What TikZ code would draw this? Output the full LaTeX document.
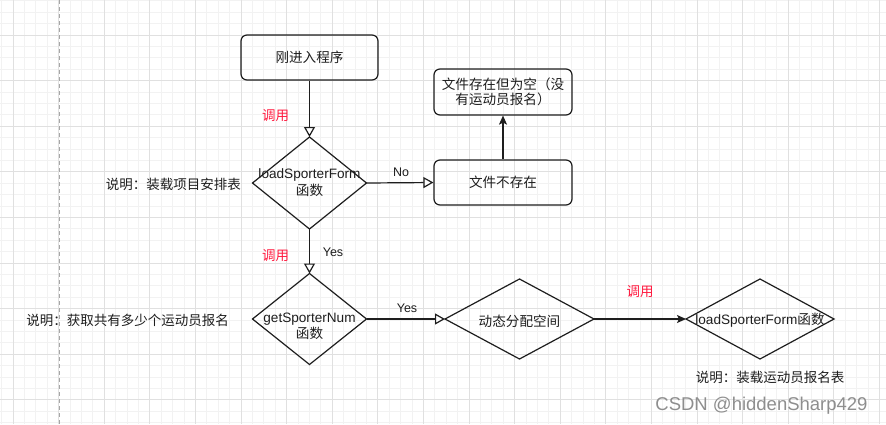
\documentclass[tikz,border=0pt]{standalone}
\usepackage{fontspec}
\setmainfont{Liberation Sans}
\newfontfamily\cjk{Noto Sans CJK SC}
\usetikzlibrary{shapes.geometric,arrows.meta}
\definecolor{gridminor}{HTML}{F2F2F2}
\definecolor{gridmajor}{HTML}{E0E0E0}
\definecolor{callred}{HTML}{FF1A40}
\definecolor{ink}{HTML}{1E1E1E}
\definecolor{wm}{HTML}{8E8E8E}
\begin{document}
\begin{tikzpicture}[x=1pt,y=-1pt,
  font=\fontsize{13.6}{15.5}\selectfont,
  box/.style={draw=ink, line width=1.2pt, rounded corners=6pt, minimum width=137pt,
    minimum height=45pt, inner sep=0pt, align=center, text=ink},
  dia/.style={draw=ink, line width=1.2pt, diamond, inner sep=0pt, outer sep=0pt},
  txt/.style={text=ink, inner sep=0pt, align=center},
  note/.style={text=ink, inner sep=0pt, font=\cjk\fontsize{13.5}{15.5}\selectfont},
  call/.style={text=callred, inner sep=0pt, font=\cjk\fontsize{13.5}{15.5}\selectfont},
  yn/.style={text=ink, inner sep=0pt, font=\fontsize{12.5}{14}\selectfont},
  openarrow/.style={draw=ink, line width=1.2pt, -{Triangle[open, length=10pt, width=11pt, fill=white]}},
  fillarrow/.style={draw=ink, line width=1.2pt, -{Stealth[length=9pt, width=8pt, inset=2pt]}}]
\useasboundingbox (0,0) rectangle (886,424);
\fill[white] (0,0) rectangle (886,424);
% grid
\foreach \i in {0,...,77} {
  \draw[gridminor, line width=0.8pt] ({1.6+11.4*\i},0) -- ({1.6+11.4*\i},424);
}
\foreach \i in {0,...,37} {
  \draw[gridminor, line width=0.8pt] (0,{0.8+11.4*\i}) -- (886,{0.8+11.4*\i});
}
\foreach \i in {0,...,19} {
  \draw[gridmajor, line width=1pt] ({13+45.6*\i},0) -- ({13+45.6*\i},424);
}
\foreach \i in {1,...,10} {
  \draw[gridmajor, line width=1pt] (0,{-10.6+45.6*\i}) -- (886,{-10.6+45.6*\i});
}
% dashed vertical line
\coordinate (dtop) at (59,0);
\coordinate (dbot) at (59,424);
\draw[gray!70, line width=1pt, dash pattern=on 4pt off 3pt] (dtop) -- (dbot);

% nodes
\node[box] (start) at (309.5,57.5) {\cjk 刚进入程序};
\node[dia, minimum width=114pt, minimum height=92pt] (d1) at (309.5,183) {};
\node[txt] (d1t) at (309.5,182.5) {loadSporterForm\\[1pt]{\cjk 函数}};
\node[box, minimum width=138pt] (nofile) at (503,182.5) {\cjk 文件不存在};
\node[box, minimum width=138pt, minimum height=46pt] (empty) at (503,92) {\cjk 文件存在但为空（没\\\cjk 有运动员报名）};
\node[dia, minimum width=114pt, minimum height=91pt] (d2) at (309.5,319) {};
\node[txt] (d2t) at (309.5,326) {getSporterNum\\[0.5pt]{\cjk 函数}};
\node[dia, minimum width=149pt, minimum height=80pt] (d3) at (519.5,319) {};
\node[txt, font=\cjk\fontsize{13.6}{15.5}\selectfont] (d3t) at (519.5,321) {动态分配空间};
\node[dia, minimum width=148pt, minimum height=80pt] (d4) at (760,319) {};
\node[txt] (d4t) at (760,320) {loadSporterForm{\cjk 函数}};

% notes
\node[note, anchor=east] (n1) at (241,184) {说明：装载项目安排表};
\node[note, anchor=east] (n2) at (229,320) {说明：获取共有多少个运动员报名};
\node[note] (n3) at (770,377) {说明：装载运动员报名表};
\node[call] (c1) at (275.5,116) {调用};
\node[call] (c2) at (275.5,256) {调用};
\node[call] (c3) at (640,292) {调用};
\node[yn] (no) at (401,172) {No};
\node[yn] (yes1) at (333,252) {Yes};
\node[yn] (yes2) at (407,308) {Yes};
\node[text=wm, inner sep=0pt, font=\fontsize{18.5}{20}\selectfont] (wmark) at (761.5,406) {CSDN @hiddenSharp429};

% connectors
\draw[openarrow] (start.south) -- (d1.north);
\draw[openarrow] (d1.east) -- (nofile.west);
\draw[fillarrow] (nofile.north) -- (empty.south);
\draw[openarrow] (d1.south) -- (d2.north);
\draw[openarrow] (d2.east) -- (d3.west);
\draw[fillarrow] (d3.east) -- (d4.west);
\end{tikzpicture}
\end{document}
